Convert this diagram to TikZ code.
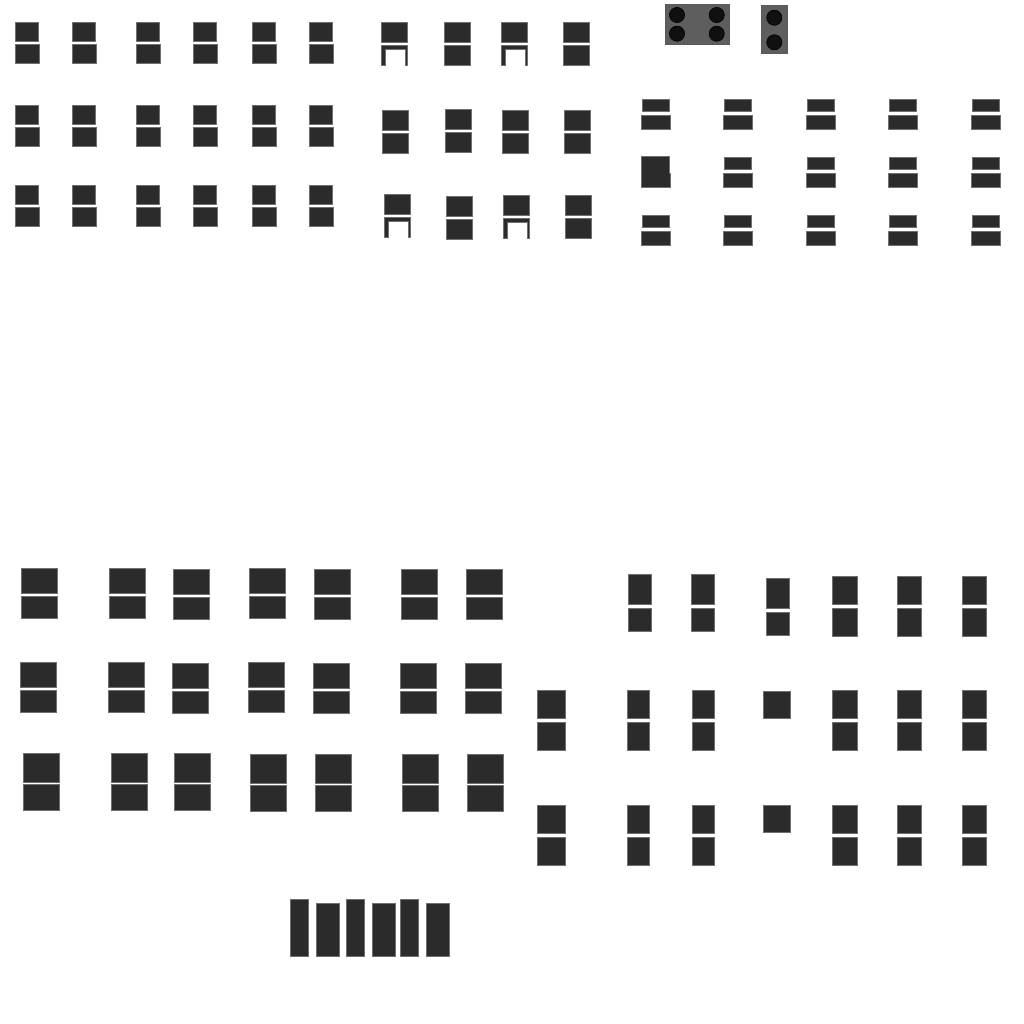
\documentclass[tikz,border=0pt]{standalone}
\usepackage{tikz}
\definecolor{P0}{RGB}{43,43,43}
\definecolor{P1}{RGB}{112,112,112}
\definecolor{P2}{RGB}{94,94,94}
\definecolor{P3}{RGB}{16,16,16}
\tikzset{pane/.style={fill=P0,draw=P1,line width=1pt},
         plate/.style={fill=P2,draw=P1!80!black,line width=0.8pt},
         hole/.style={fill=P3,draw=black,line width=0.6pt}}
\begin{document}
\begin{tikzpicture}[x=1pt,y=-1pt]
        \useasboundingbox[fill=white] (0,0) rectangle (1024,1024);

        % top left block
        \foreach \x in {15.3,72.3,136.3,193.3,252.3,309.3}
          \foreach \y in {22.3,105.3,185.3} {
            \filldraw[pane] (\x,\y) rectangle ++(23.4,19.4);
            \filldraw[pane] (\x,\y+22) rectangle ++(24.4,19);
          }

        % top middle block
        \foreach \x/\y in {444.3/22.3,563.3/22.3,382.3/110.3,445.3/109.3,502.3/110.3,564.3/110.3,446.3/196.3,565.3/195.3} {
            \filldraw[pane] (\x,\y) rectangle ++(26.4,20);
            \filldraw[pane] (\x,\y+23) rectangle ++(26.4,20.4);
          }
        \foreach \x/\y in {381.3/22.3,501.3/22.3,384.3/194.3,503.3/195.3} {
            \filldraw[pane] (\x,\y) rectangle ++(26.4,20);
            \filldraw[pane] (\x,\y+43.4) -- (\x,\y+23) -- (\x+26.4,\y+23) -- (\x+26.4,\y+43.4)
              -- (\x+24.4,\y+43.4) -- (\x+24.4,\y+27) -- (\x+4,\y+27) -- (\x+4,\y+43.4) -- cycle;
          }

        % plates
        \filldraw[plate] (665.3,4.3) rectangle (729.7,44.7);
        \foreach \x/\y in {677/15,716.7/15,677/33.7,716.7/33.7}
          \filldraw[hole] (\x,\y) circle (7.6);
        \filldraw[plate] (761.3,5) rectangle (787.7,53.7);
        \foreach \y in {17.7,42.3}
          \filldraw[hole] (774.3,\y) circle (7.6);

        % top right block
        \foreach \x in {642.3,724.3,807.3,889.3,972.3}
          \foreach \y in {99.3,157.3,215.3} {
            \ifdim\x pt=642.3pt \ifdim\y pt=157.3pt \else
            \filldraw[pane] (\x,\y) rectangle ++(27.4,12.4);
            \filldraw[pane] (\x-1,\y+16) rectangle ++(29.4,14.4);
            \fi \else
            \filldraw[pane] (\x,\y) rectangle ++(27.4,12.4);
            \filldraw[pane] (\x-1,\y+16) rectangle ++(29.4,14.4);
            \fi
          }
        \filldraw[pane] (641.3,156.3) -- (669.7,156.3) -- (669.7,173.3) -- (670.7,173.3)
          -- (670.7,187.7) -- (641.3,187.7) -- cycle;

        % bottom left block
        \foreach \x/\d in {21.3/0,109.3/0,173.3/1,249.3/0,314.3/1,401.3/1,466.3/1} {
            \filldraw[pane] (\x,568.3+\d) rectangle ++(36.4,25.4);
            \filldraw[pane] (\x,596.3+\d) rectangle ++(36.4,22.4);
            \filldraw[pane] (\x-1,662.3+\d) rectangle ++(36.4,25.4);
            \filldraw[pane] (\x-1,690.3+\d) rectangle ++(36.4,22.4);
          }
        \foreach \x/\d in {23.3/0,111.3/0,174.3/0,250.3/1,315.3/1,402.3/1,467.3/1} {
            \filldraw[pane] (\x,753.3+\d) rectangle ++(36.4,29.4);
            \filldraw[pane] (\x,784.7+\d) rectangle ++(36.4,26);
          }

        % bottom right block
        \foreach \x/\y in {628.3/574.3,691.3/574.3,766.3/578.3} {
            \filldraw[pane] (\x,\y) rectangle ++(23.4,30);
            \filldraw[pane] (\x,\y+34) rectangle ++(23.4,23);
          }
        \foreach \x/\w in {832.3/25,897.3/24.4,962.3/24.4} {
            \filldraw[pane] (\x,576.3) rectangle ++(\w,28);
            \filldraw[pane] (\x,608.3) rectangle ++(\w,28);
          }
        \foreach \x/\w in {537.3/28.4,627.3/22.4,692.3/22.4,832.3/25,897.3/24.4,962.3/24.4}
          \foreach \y in {690.3,805.3} {
            \filldraw[pane] (\x,\y) rectangle ++(\w,28);
            \filldraw[pane] (\x,\y+32) rectangle ++(\w,28);
          }
        \filldraw[pane] (763.3,691.3) rectangle ++(27.4,27.4);
        \filldraw[pane] (763.3,805.3) rectangle ++(27.4,27);

        % bars
        \foreach \x/\w/\t in {290.3/18.4/899.3,316.3/23.4/903.3,346.3/18/899.3,372.3/23.4/903.3,400.3/18.4/899.3,426.3/23.4/903.3}
          \filldraw[pane] (\x,\t) rectangle (\x+\w,956);
\end{tikzpicture}
\end{document}
